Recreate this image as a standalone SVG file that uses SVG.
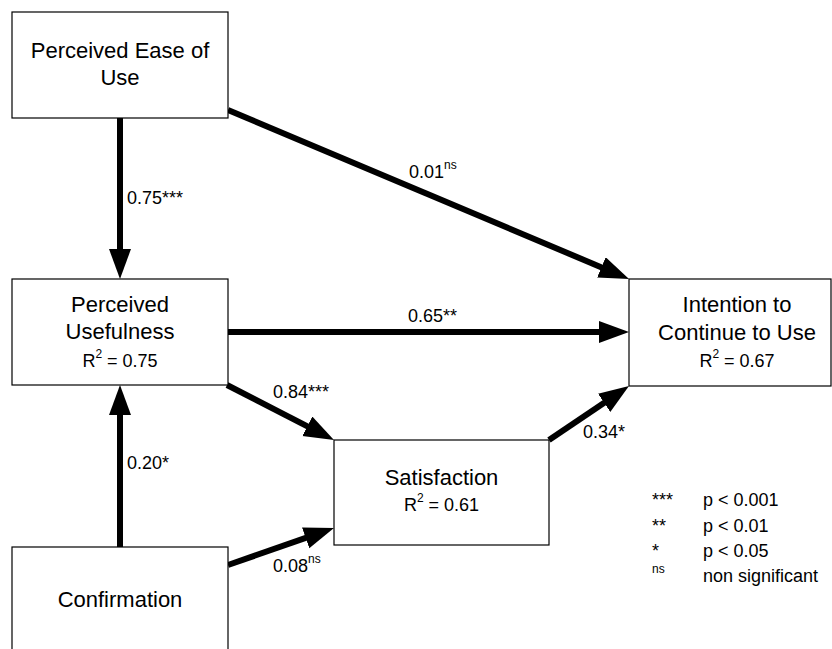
<svg xmlns="http://www.w3.org/2000/svg" width="832" height="649" viewBox="0 0 832 649">
<style>
.box{fill:#fff;stroke:#000;stroke-width:1.2}
.t{font-family:"Liberation Sans",Arial,sans-serif;font-size:22px;fill:#000;text-anchor:middle}
.r{font-family:"Liberation Sans",Arial,sans-serif;font-size:18px;fill:#000;text-anchor:middle}
.l{font-family:"Liberation Sans",Arial,sans-serif;font-size:18px;fill:#000}
.sup{font-size:12px}
.edge{stroke:#000;stroke-width:6;fill:none;marker-end:url(#ah)}
</style>
<defs>
<marker id="ah" markerUnits="userSpaceOnUse" markerWidth="32" markerHeight="24" refX="10" refY="11" orient="auto" viewBox="0 0 32 24">
<path d="M0,0 L30,11 L0,22 z" fill="#000"/>
</marker>
</defs>
<rect width="832" height="649" fill="#fff"/>
<g id="connectors">
<line class="edge" x1="120" y1="118" x2="120" y2="259"/>
<line class="edge" x1="228" y1="110" x2="610.6" y2="271.2"/>
<line class="edge" x1="228" y1="332" x2="609" y2="332"/>
<line class="edge" x1="227" y1="385" x2="316.2" y2="430.9"/>
<line class="edge" x1="549" y1="440" x2="612.4" y2="397.2"/>
<line class="edge" x1="120" y1="547" x2="120" y2="405"/>
<line class="edge" x1="228" y1="565" x2="315.1" y2="534.6"/>
</g>
<g id="node-peou">
<rect class="box" x="12" y="12" width="216" height="106"/>
<text class="t" x="120" y="58">Perceived Ease of</text>
<text class="t" x="120" y="85">Use</text>
</g>
<g id="node-pu">
<rect class="box" x="12" y="279" width="216" height="106"/>
<text class="t" x="120" y="312">Perceived</text>
<text class="t" x="120" y="339">Usefulness</text>
<text class="r" x="120" y="367">R<tspan class="sup" dy="-9">2</tspan><tspan dy="9"> = 0.75</tspan></text>
</g>
<g id="node-itu">
<rect class="box" x="629" y="279" width="202" height="107"/>
<text class="t" x="737" y="312">Intention to</text>
<text class="t" x="737" y="340">Continue to Use</text>
<text class="r" x="737" y="367">R<tspan class="sup" dy="-9">2</tspan><tspan dy="9"> = 0.67</tspan></text>
</g>
<g id="node-sat">
<rect class="box" x="334" y="440" width="215" height="105"/>
<text class="t" x="441.5" y="485">Satisfaction</text>
<text class="r" x="441.5" y="511">R<tspan class="sup" dy="-9">2</tspan><tspan dy="9"> = 0.61</tspan></text>
</g>
<g id="node-conf">
<rect class="box" x="12" y="547" width="216" height="106"/>
<text class="t" x="120" y="607">Confirmation</text>
</g>
<g id="edge-labels">
<text class="l" x="127" y="204">0.75***</text>
<text class="l" x="409" y="178">0.01<tspan class="sup" dy="-9">ns</tspan></text>
<text class="l" x="408" y="322">0.65**</text>
<text class="l" x="273" y="398">0.84***</text>
<text class="l" x="583" y="438">0.34*</text>
<text class="l" x="273" y="572">0.08<tspan class="sup" dy="-9">ns</tspan></text>
<text class="l" x="127" y="469">0.20*</text>
</g>
<g id="legend">
<text class="l" x="652" y="506">***</text>
<text class="l" x="703" y="506">p &lt; 0.001</text>
<text class="l" x="652" y="531.7">**</text>
<text class="l" x="703" y="531.7">p &lt; 0.01</text>
<text class="l" x="652" y="556.7">*</text>
<text class="l" x="703" y="556.7">p &lt; 0.05</text>
<text class="l sup" x="652" y="573">ns</text>
<text class="l" x="703" y="581.7">non significant</text>
</g>
</svg>
